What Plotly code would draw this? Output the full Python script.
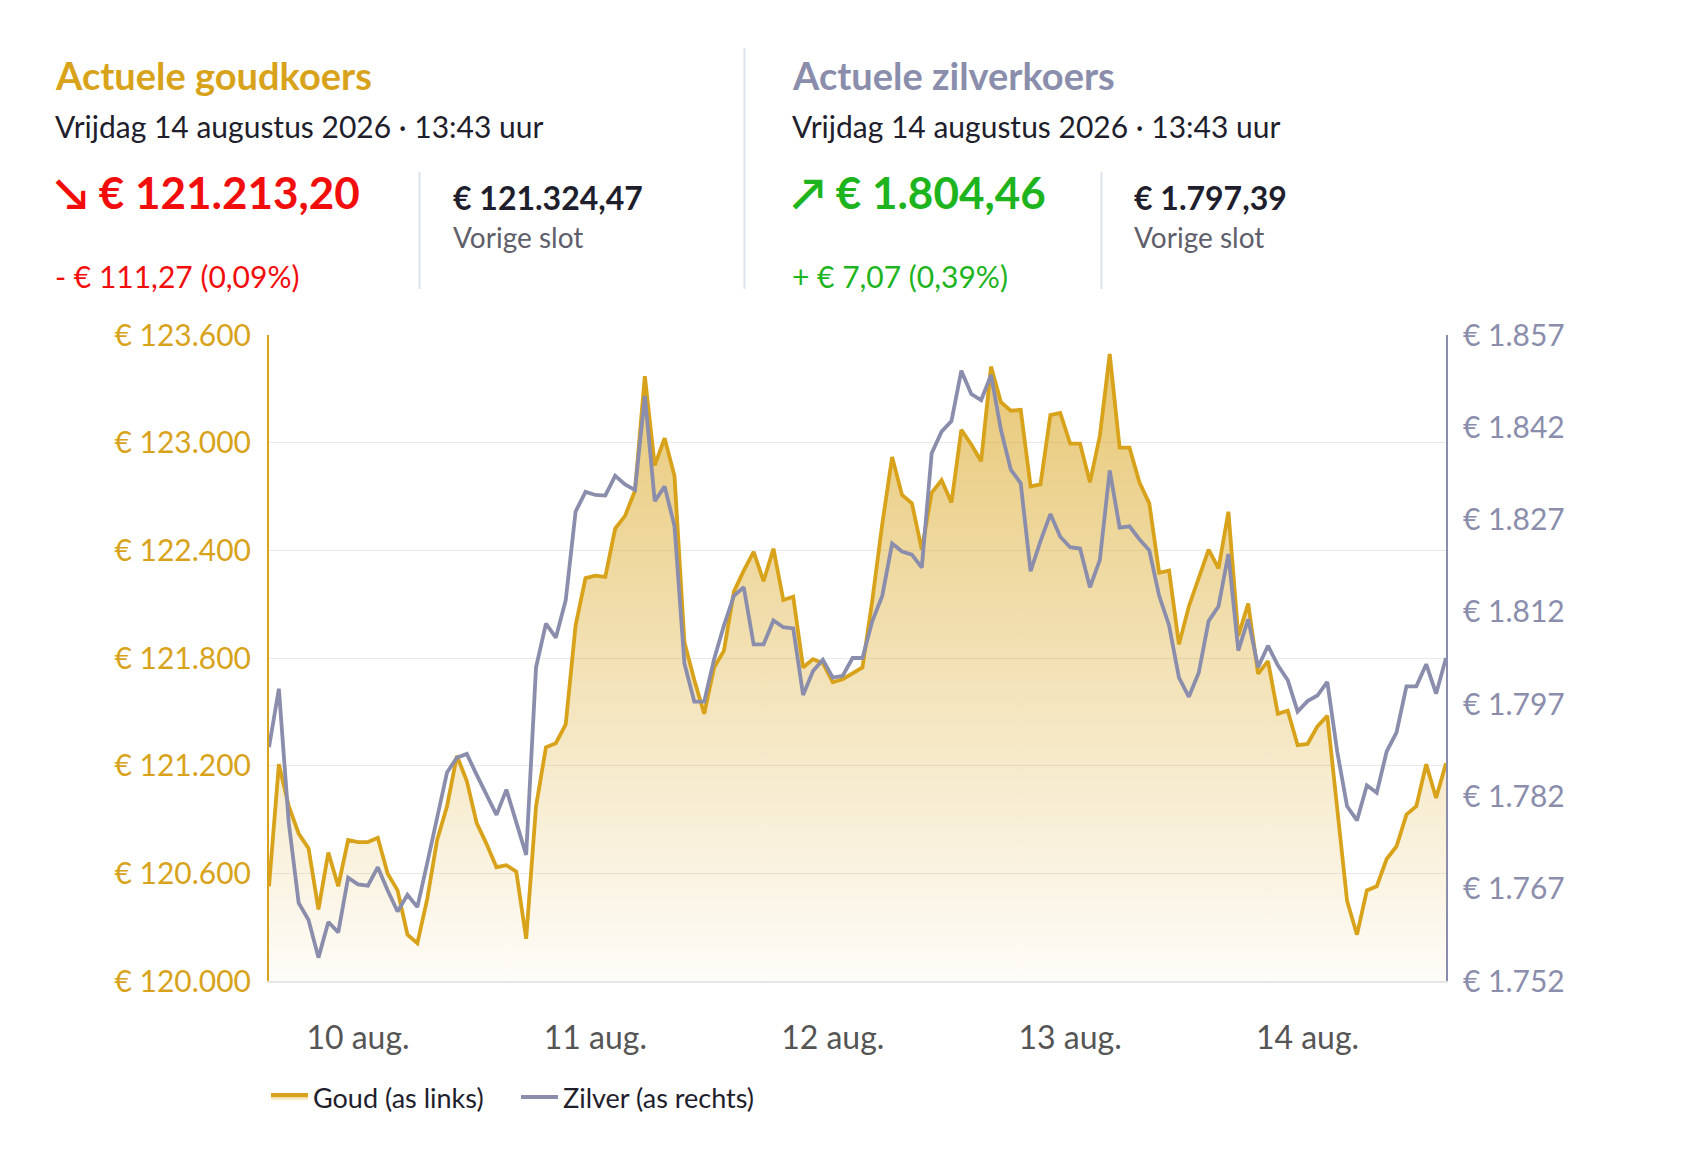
import pandas as pd
import plotly.graph_objects as go
from plotly.subplots import make_subplots

# the page body adds 8px around the figure, so the figure is a bit smaller
OFF = 8
W, H = 1684 - 2 * OFF, 1153 - 2 * OFF
L, R, T, B = 268.5, 1445.6, 335, 980.6   # plot area in page pixels

GOLD = "#D8A31A"
SILVER = "#8A8DAB"
RED = "#F20D0D"
GREEN = "#1DB41D"
DARK = "#1E1E2C"
GREY = "#5F5F6B"
FONT = "Lato"

# hourly quotes, 9 aug 15:00 .. 14 aug 14:00
times = pd.date_range("2026-08-09 15:00", periods=120, freq="h")

goud = [
    120528, 121208, 120974, 120821, 120739, 120399, 120716, 120528, 120786, 120774,
    120774, 120798, 120598, 120505, 120258, 120211, 120458, 120786, 120974, 121255,
    121114, 120880, 120763, 120634, 120645, 120610, 120235, 120974, 121302, 121325,
    121430, 121982, 122245, 122259, 122252, 122521, 122592, 122732, 123370, 122873,
    123025, 122814, 121888, 121677, 121489, 121747, 121841, 122170, 122287, 122392,
    122228, 122409, 122123, 122141, 121747, 121794, 121771, 121665, 121682, 121712,
    121747, 122123, 122545, 122920, 122709, 122662, 122404, 122721, 122791, 122667,
    123072, 122990, 122896, 123424, 123225, 123178, 123183, 122756, 122768, 123154,
    123166, 122995, 122995, 122779, 123037, 123494, 122972, 122972, 122779, 122662,
    122275, 122287, 121876, 122087, 122240, 122404, 122299, 122615, 121923, 122104,
    121712, 121783, 121489, 121506, 121314, 121321, 121419, 121478, 120962, 120446,
    120258, 120505, 120528, 120680, 120751, 120927, 120974, 121208, 121020, 121213,
]

zilver = [
    1790.0, 1799.5, 1777.7, 1764.7, 1761.9, 1755.8, 1761.6, 1759.9, 1768.8, 1767.7,
    1767.5, 1770.5, 1766.7, 1763.3, 1766.0, 1764.0, 1771.2, 1778.3, 1785.9, 1788.3,
    1788.9, 1785.5, 1782.4, 1779.0, 1783.1, 1777.7, 1772.5, 1803.0, 1810.1, 1807.8,
    1813.9, 1828.3, 1831.5, 1831.0, 1830.9, 1834.1, 1832.7, 1831.8, 1847.1, 1830.0,
    1832.4, 1825.9, 1803.6, 1797.4, 1797.4, 1804.3, 1809.8, 1814.6, 1816.0, 1806.7,
    1806.7, 1810.6, 1809.5, 1809.3, 1798.5, 1802.4, 1804.2, 1801.3, 1801.6, 1804.5,
    1804.5, 1810.5, 1814.6, 1823.1, 1821.8, 1821.3, 1819.2, 1837.8, 1841.3, 1843.0,
    1851.2, 1847.4, 1846.4, 1850.5, 1841.6, 1835.1, 1832.9, 1818.6, 1823.5, 1827.9,
    1824.2, 1822.5, 1822.3, 1816.0, 1820.4, 1835.0, 1825.7, 1825.9, 1823.8, 1822.0,
    1814.6, 1809.8, 1801.3, 1798.2, 1802.1, 1810.5, 1812.9, 1821.4, 1805.7, 1810.8,
    1803.0, 1806.5, 1803.3, 1800.9, 1795.8, 1797.5, 1798.4, 1800.6, 1789.3, 1780.4,
    1778.1, 1783.8, 1782.6, 1789.3, 1792.4, 1799.9, 1799.9, 1803.5, 1798.7, 1804.5,
]

goud_ticks = [120000, 120600, 121200, 121800, 122400, 123000, 123600]
goud_labels = ["€ 120.000", "€ 120.600", "€ 121.200", "€ 121.800",
               "€ 122.400", "€ 123.000", "€ 123.600"]
zilver_ticks = [1752, 1767, 1782, 1797, 1812, 1827, 1842, 1857]
zilver_labels = ["€ 1.752", "€ 1.767", "€ 1.782", "€ 1.797",
                 "€ 1.812", "€ 1.827", "€ 1.842", "€ 1.857"]
dag_ticks = ["2026-08-10", "2026-08-11", "2026-08-12", "2026-08-13", "2026-08-14"]
dag_labels = ["10 aug.", "11 aug.", "12 aug.", "13 aug.", "14 aug."]


def px(x):
    return (x - L) / (R - L)


def py(y):
    return (B - y) / (B - T)


fig = make_subplots(specs=[[{"secondary_y": True}]])

fig.add_trace(go.Scatter(
    x=times, y=goud, name="Goud (as links)", mode="lines",
    line=dict(color=GOLD, width=3.8),
    fill="tozeroy",
    fillgradient=dict(type="vertical", start=120000, stop=123600,
                      colorscale=[[0, "rgba(216,163,26,0.03)"],
                                  [1, "rgba(216,163,26,0.62)"]]),
), secondary_y=False)

fig.add_trace(go.Scatter(
    x=times, y=zilver, name="Zilver (as rechts)", mode="lines",
    line=dict(color=SILVER, width=3.8),
), secondary_y=True)


def note(text, x, y, size, color, bold=False):
    fig.add_annotation(
        text=f"<b>{text}</b>" if bold else text,
        x=px(x), y=py(y), xref="paper", yref="paper",
        xanchor="left", yanchor="middle", showarrow=False,
        font=dict(family=FONT, size=size, color=color),
    )


# gold block
note("Actuele goudkoers", 52, 75, 38, GOLD, bold=True)
note("Vrijdag 14 augustus 2026 · 13:43 uur", 52, 126, 30, DARK)
note("↘ € 121.213,20", 52, 192, 44, RED, bold=True)
note("- € 111,27 (0,09%)", 52, 276, 30, RED)
note("€ 121.324,47", 451, 198, 32, DARK, bold=True)
note("Vorige slot", 451, 237, 28, GREY)

# silver block
note("Actuele zilverkoers", 790, 75, 38, SILVER, bold=True)
note("Vrijdag 14 augustus 2026 · 13:43 uur", 790, 126, 30, DARK)
note("↗ € 1.804,46", 790, 192, 44, GREEN, bold=True)
note("+ € 7,07 (0,39%)", 790, 276, 30, GREEN)
note("€ 1.797,39", 1132, 198, 32, DARK, bold=True)
note("Vorige slot", 1132, 237, 28, GREY)

for x, y0 in [(419, 172), (744, 48), (1101, 172)]:
    fig.add_shape(type="line", xref="paper", yref="paper",
                  x0=px(x), x1=px(x), y0=py(y0), y1=py(289),
                  line=dict(color="#DCE3EC", width=2))

fig.update_layout(
    width=W, height=H,
    margin=dict(l=L - OFF, r=W - (R - OFF), t=T - OFF, b=H - (B - OFF),
                autoexpand=False),
    paper_bgcolor="white", plot_bgcolor="white",
    font=dict(family=FONT, color=DARK),
    showlegend=True,
    legend=dict(orientation="h", x=px(265.5), y=py(1097), xanchor="left",
                yanchor="middle", font=dict(family=FONT, size=27, color=DARK),
                itemwidth=37, entrywidth=198, traceorder="normal"),
)

fig.update_xaxes(
    domain=[0, 1],
    type="date", range=[times[0], times[-1]],
    tickvals=dag_ticks, ticktext=dag_labels,
    showgrid=False, zeroline=False, automargin=False,
    showline=True, linecolor="#E6E6E6", linewidth=2,
    ticks="", ticklabelstandoff=28,
    tickfont=dict(family=FONT, size=32, color="#555555"),
)

fig.update_yaxes(
    range=[120000, 123600], tickvals=goud_ticks, ticktext=goud_labels,
    showgrid=True, gridcolor="#E9E9E9", gridwidth=1, zeroline=False,
    showline=True, linecolor=GOLD, linewidth=2, automargin=False,
    ticks="", ticklabelstandoff=10,
    tickfont=dict(family=FONT, size=30, color=GOLD),
    secondary_y=False,
)

fig.update_yaxes(
    range=[1752, 1857], tickvals=zilver_ticks, ticktext=zilver_labels,
    showgrid=False, zeroline=False, automargin=False,
    showline=True, linecolor=SILVER, linewidth=2,
    ticks="", ticklabelstandoff=9,
    tickfont=dict(family=FONT, size=30, color=SILVER),
    secondary_y=True,
)

fig.write_html("out.html")
